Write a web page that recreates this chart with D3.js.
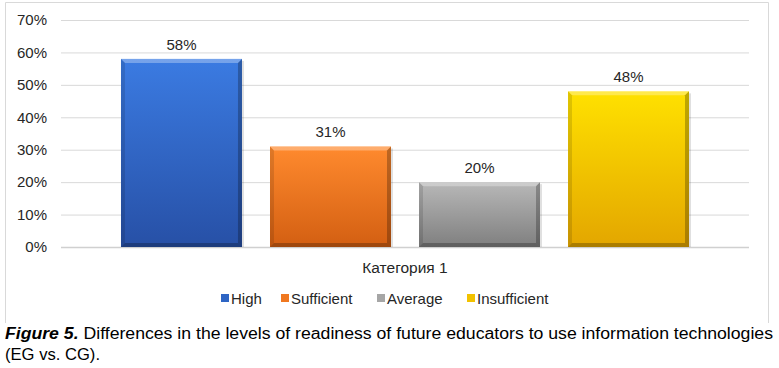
<!DOCTYPE html>
<html><head><meta charset="utf-8">
<script src="https://cdn.jsdelivr.net/npm/d3@7"></script>
<style>body{margin:0;background:#fff}svg{display:block}text{font-family:"Liberation Sans",Arial,sans-serif}</style>
</head><body>
<script>
const categories = ["Категория 1"];
const seriesNames = ["High","Sufficient","Average","Insufficient"];
const seriesValues = [0.58, 0.31, 0.20, 0.48];
const yTicks = [0,0.1,0.2,0.3,0.4,0.5,0.6,0.7];
const colorsTop = ["#3b7be2","#ff8a2e","#b8b8b8","#ffe100"];
const colorsBot = ["#2750a6","#d35f12","#7f7f7f","#e3a600"];
const legendColors = ["#2e65c4","#f07820","#a6a6a6","#f2c200"];

const W=779,H=368;
const svg=d3.select("body").append("svg").attr("width",W).attr("height",H);
const defs=svg.append("defs");
seriesNames.forEach((s,i)=>{
  const g=defs.append("linearGradient").attr("id","g"+i).attr("x1",0).attr("y1",0).attr("x2",0).attr("y2",1);
  g.append("stop").attr("offset","0%").attr("stop-color",colorsTop[i]);
  g.append("stop").attr("offset","100%").attr("stop-color",colorsBot[i]);
});
svg.append("path").attr("d","M5.5,323V2.5H768.5V323").attr("fill","none").attr("stroke","#d9d9d9");

const pL=61,pR=749,pT=20,pB=247;
const y=d3.scaleLinear().domain([0,0.7]).range([pB,pT]);
const x0=d3.scaleBand().domain(categories).range([pL,pR]).paddingInner(0).paddingOuter(0.1056);
const x1=d3.scaleBand().domain(seriesNames).range([0,x0.bandwidth()]).paddingInner(0.188).paddingOuter(0);

const yAxis=d3.axisLeft(y).tickValues(yTicks).tickFormat(d3.format(".0%")).tickSize(-(pR-pL)).tickPadding(14);
const ga=svg.append("g").attr("transform",`translate(${pL},0)`).call(yAxis);
ga.select(".domain").remove();
ga.selectAll(".tick line").attr("stroke","#d9d9d9");
ga.selectAll(".tick text").attr("font-size",15).attr("fill","#262626");
ga.selectAll(".tick").filter(d=>d===0).select("line").attr("stroke","#d0d0d0").attr("stroke-width",1.5);

const grp=svg.append("g").selectAll("g").data(categories).join("g").attr("transform",d=>`translate(${x0(d)},0)`);
seriesNames.forEach((s,i)=>{
  const bx=x1(s),bw=x1.bandwidth(),by=y(seriesValues[i]),bh=pB-by;
  const gg=grp.append("g");
  gg.append("rect").attr("x",bx+2).attr("y",by+2).attr("width",bw).attr("height",bh-2).attr("fill","#000").attr("opacity",0.12);
  gg.append("rect").attr("x",bx).attr("y",by).attr("width",bw).attr("height",bh).attr("fill",`url(#g${i})`);
  const b=4;
  gg.append("path").attr("d",`M${bx},${by}h${bw}l${-b},${b}h${-(bw-2*b)}z`).attr("fill","#fff").attr("opacity",0.3);
  gg.append("path").attr("d",`M${bx},${by}v${bh}l${b},${-b}v${-(bh-2*b)}z`).attr("fill","#000").attr("opacity",0.12);
  gg.append("path").attr("d",`M${bx+bw},${by}v${bh}l${-b},${-b}v${-(bh-2*b)}z`).attr("fill","#000").attr("opacity",0.25);
  gg.append("path").attr("d",`M${bx},${pB}h${bw}l${-b},${-b}h${-(bw-2*b)}z`).attr("fill","#000").attr("opacity",0.25);
  gg.append("text").attr("x",bx+bw/2).attr("y",by-9).attr("text-anchor","middle").attr("font-size",15).attr("fill","#262626").text(d3.format(".0%")(seriesValues[i]));
});

svg.append("text").attr("x",(pL+pR)/2).attr("y",273).attr("text-anchor","middle").attr("font-size",15.5).attr("fill","#262626").text(categories[0]);

const legX=[221,281,377,467];
const lg=svg.append("g");
seriesNames.forEach((s,i)=>{
  lg.append("rect").attr("x",legX[i]).attr("y",294).attr("width",8).attr("height",8).attr("fill",legendColors[i]);
  lg.append("text").attr("x",legX[i]+10).attr("y",303.5).attr("font-size",15).attr("fill","#262626").text(s);
});

const cap=svg.append("text").attr("x",5).attr("y",339).attr("font-size",16).attr("fill","#000")
  .attr("textLength",768).attr("lengthAdjust","spacingAndGlyphs");
cap.append("tspan").attr("font-weight","bold").attr("font-style","italic").text("Figure 5.");
cap.append("tspan").text(" Differences in the levels of readiness of future educators to use information technologies");
svg.append("text").attr("x",5).attr("y",360).attr("font-size",16).attr("fill","#000")
  .attr("textLength",95).attr("lengthAdjust","spacingAndGlyphs").text("(EG vs. CG).");
</script>
</body></html>
